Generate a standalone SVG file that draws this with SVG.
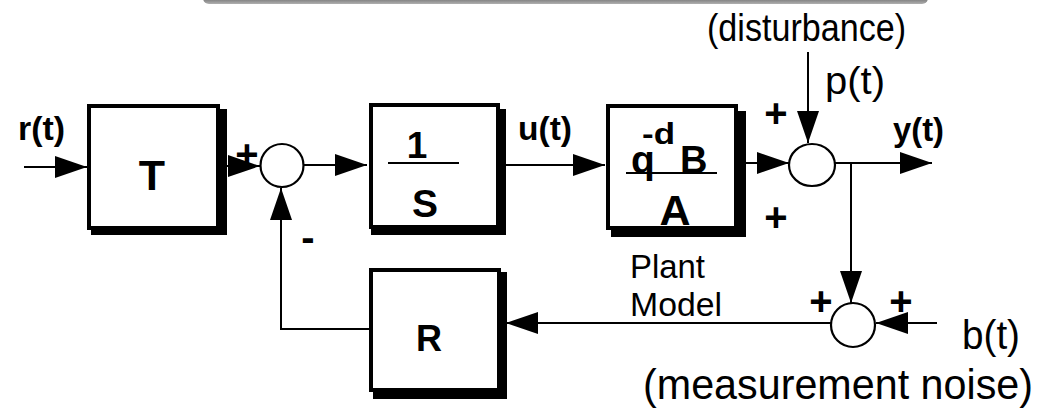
<svg xmlns="http://www.w3.org/2000/svg" width="1043" height="410" viewBox="0 0 1043 410">
  <style>
    .box { fill: #fff; stroke: #000; stroke-width: 4; }
    .shadow { fill: #000; }
    .wire { fill: none; stroke: #000; stroke-width: 2; }
    .sum { fill: #fff; stroke: #000; stroke-width: 2.2; }
    .bold { font-family: "Liberation Sans", Arial, sans-serif; font-weight: bold; fill: #000; }
    .plain { font-family: "Liberation Sans", Arial, sans-serif; fill: #000; }
    .mid { text-anchor: middle; }
  </style>
  <defs>
    <marker id="arrow" markerUnits="userSpaceOnUse" markerWidth="33" markerHeight="22" refX="32" refY="11" orient="auto">
      <path d="M0,0 L32,11 L0,22 Z" fill="#000"/>
    </marker>
    <linearGradient id="barShade" x1="0" y1="0" x2="0" y2="1">
      <stop offset="0" stop-color="#7a7a7a"/>
      <stop offset="0.75" stop-color="#858585"/>
      <stop offset="1" stop-color="#b0b0b0"/>
    </linearGradient>
  </defs>

  <!-- header bar -->
  <rect x="203" y="-12" width="725" height="16" rx="6" fill="url(#barShade)"/>

  <!-- connectors -->
  <g id="connectors">
    <line class="wire" x1="24" y1="167" x2="87" y2="167" marker-end="url(#arrow)"/>
    <line class="wire" x1="222" y1="166" x2="260" y2="166" marker-end="url(#arrow)"/>
    <line class="wire" x1="304" y1="165" x2="367" y2="165" marker-end="url(#arrow)"/>
    <line class="wire" x1="502" y1="165" x2="605" y2="165" marker-end="url(#arrow)"/>
    <line class="wire" x1="746" y1="163" x2="789" y2="163" marker-end="url(#arrow)"/>
    <line class="wire" x1="835" y1="163" x2="932" y2="163" marker-end="url(#arrow)"/>
    <line class="wire" x1="808" y1="52" x2="808" y2="143" marker-end="url(#arrow)"/>
    <polyline class="wire" points="851,163 851,303" marker-end="url(#arrow)"/>
    <line class="wire" x1="937" y1="323" x2="876" y2="323" marker-end="url(#arrow)"/>
    <line class="wire" x1="831" y1="323" x2="506" y2="323" marker-end="url(#arrow)"/>
    <polyline class="wire" points="369,329 281,329 281,188" marker-end="url(#arrow)"/>
  </g>

  <!-- reference prefilter T -->
  <g id="block-T">
    <rect class="shadow" x="91" y="109" width="136" height="126"/>
    <rect class="box" x="89" y="106" width="129" height="122"/>
    <text class="bold mid" x="152" y="190" font-size="43">T</text>
  </g>

  <!-- integrator 1/S -->
  <g id="block-integrator">
    <rect class="shadow" x="371" y="109" width="135" height="126"/>
    <rect class="box" x="371" y="105" width="127" height="122"/>
    <text class="bold mid" x="417" y="158" font-size="37">1</text>
    <line class="wire" x1="388" y1="163" x2="459" y2="163"/>
    <text class="bold mid" x="425" y="217" font-size="39">S</text>
  </g>

  <!-- plant q^-d B / A -->
  <g id="block-plant">
    <rect class="shadow" x="611" y="111" width="135" height="126"/>
    <rect class="box" x="608" y="106" width="128" height="122"/>
    <text class="bold" x="642" y="144" font-size="30" textLength="33" lengthAdjust="spacingAndGlyphs">-d</text>
    <text class="bold" x="631" y="173" font-size="39">q</text>
    <text class="bold" x="680" y="173" font-size="38">B</text>
    <line class="wire" x1="626" y1="173" x2="717" y2="173"/>
    <text class="bold mid" x="675" y="225" font-size="43">A</text>
  </g>

  <!-- feedback R -->
  <g id="block-R">
    <rect class="shadow" x="373" y="272" width="134" height="127"/>
    <rect class="box" x="371" y="270" width="128" height="120"/>
    <text class="bold mid" x="429" y="351" font-size="36">R</text>
  </g>

  <!-- summing junctions -->
  <g id="sum-error">
    <circle class="sum" cx="282" cy="165.5" r="21.5"/>
    <text class="bold mid" x="247" y="168" font-size="40">+</text>
    <text class="bold mid" x="308" y="251" font-size="40">-</text>
  </g>
  <g id="sum-disturbance">
    <ellipse class="sum" cx="812" cy="165" rx="23" ry="21"/>
    <text class="bold mid" x="776" y="127" font-size="40">+</text>
    <text class="bold mid" x="776" y="231" font-size="40">+</text>
  </g>
  <g id="sum-noise">
    <circle class="sum" cx="853" cy="325" r="22"/>
    <text class="bold mid" x="821" y="315" font-size="40">+</text>
    <text class="bold mid" x="901" y="315" font-size="40">+</text>
  </g>

  <!-- signal labels -->
  <g id="labels">
    <text class="bold" x="18" y="140" font-size="34" textLength="47" lengthAdjust="spacingAndGlyphs">r(t)</text>
    <text class="bold" x="518" y="140" font-size="34" textLength="54" lengthAdjust="spacingAndGlyphs">u(t)</text>
    <text class="bold" x="893" y="141" font-size="34" textLength="51" lengthAdjust="spacingAndGlyphs">y(t)</text>
    <text class="plain" x="707" y="41" font-size="38" textLength="199" lengthAdjust="spacingAndGlyphs">(disturbance)</text>
    <text class="plain" x="825" y="94" font-size="38" textLength="60" lengthAdjust="spacingAndGlyphs">p(t)</text>
    <text class="plain" x="630" y="278" font-size="33" textLength="75" lengthAdjust="spacingAndGlyphs">Plant</text>
    <text class="plain" x="630" y="316" font-size="33" textLength="92" lengthAdjust="spacingAndGlyphs">Model</text>
    <text class="plain" x="962" y="349" font-size="40" textLength="58" lengthAdjust="spacingAndGlyphs">b(t)</text>
    <text class="plain" x="643" y="399" font-size="42" textLength="390" lengthAdjust="spacingAndGlyphs">(measurement noise)</text>
  </g>
</svg>
